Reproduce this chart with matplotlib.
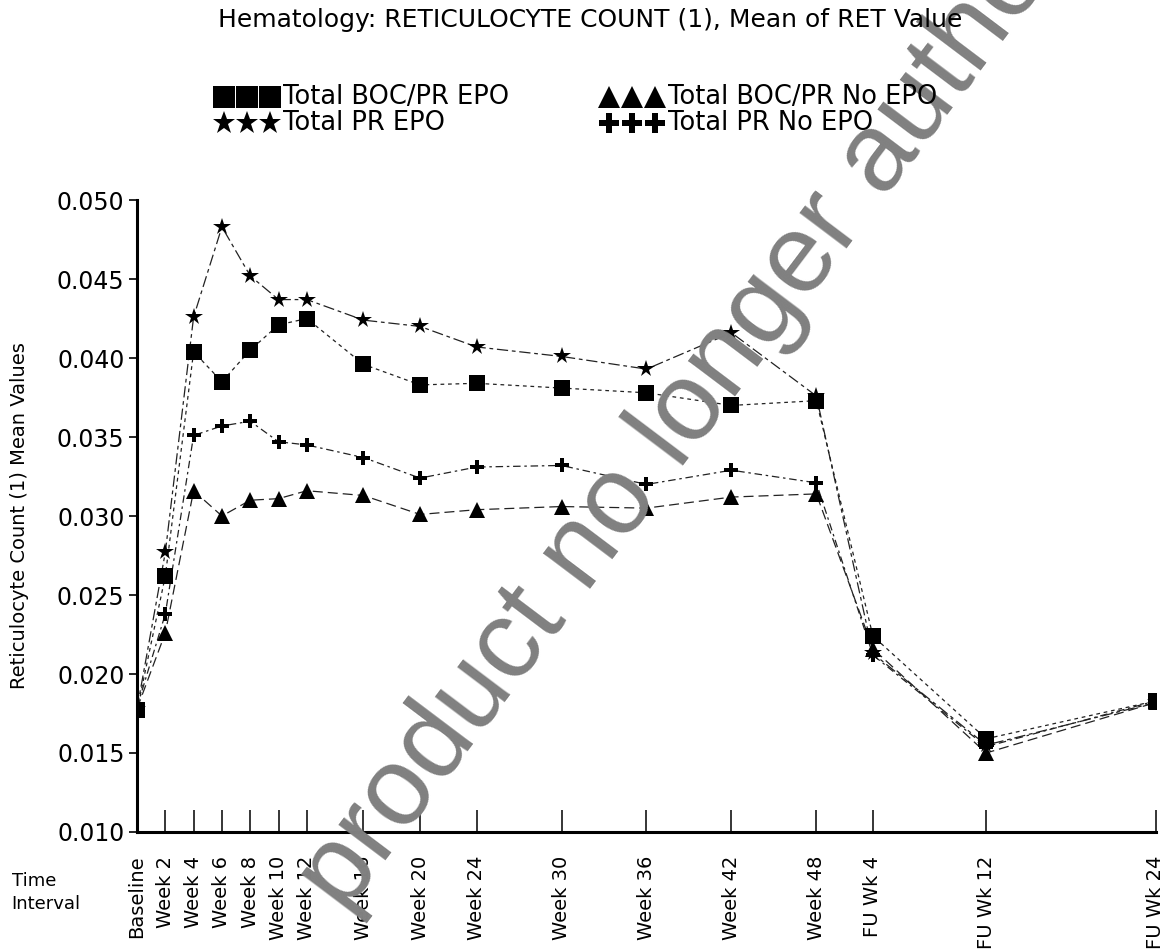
import matplotlib
matplotlib.use('Agg')
import matplotlib.pyplot as plt
from matplotlib.lines import Line2D

# Visit schedule in weeks from baseline (follow-up weeks counted after week 48)
weeks = [0, 2, 4, 6, 8, 10, 12, 16, 20, 24, 30, 36, 42, 48, 52, 60, 72]
visit_labels = ['Baseline', 'Week 2', 'Week 4', 'Week 6', 'Week 8', 'Week 10',
                'Week 12', 'Week 16', 'Week 20', 'Week 24', 'Week 30', 'Week 36',
                'Week 42', 'Week 48', 'FU Wk 4', 'FU Wk 12', 'FU Wk 24']

# Mean RET values per treatment group
boc_pr_epo = [0.0177, 0.0262, 0.0404, 0.0385, 0.0405, 0.0421, 0.0425, 0.0396, 0.0383,
              0.0384, 0.0381, 0.0378, 0.0370, 0.0373, 0.0224, 0.0159, 0.0183]
pr_epo = [0.0178, 0.0277, 0.0426, 0.0483, 0.0452, 0.0437, 0.0437, 0.0424, 0.0420,
          0.0407, 0.0401, 0.0393, 0.0416, 0.0376, 0.0213, 0.0155, 0.0182]
boc_pr_no_epo = [0.0178, 0.0226, 0.0316, 0.0300, 0.0310, 0.0311, 0.0316, 0.0313, 0.0301,
                 0.0304, 0.0306, 0.0305, 0.0312, 0.0314, 0.0216, 0.0150, 0.0182]
pr_no_epo = [0.0179, 0.0238, 0.0351, 0.0357, 0.0360, 0.0347, 0.0345, 0.0337, 0.0324,
             0.0331, 0.0332, 0.0320, 0.0329, 0.0321, 0.0212, 0.0154, 0.0183]

y_ticks = [0.010, 0.015, 0.020, 0.025, 0.030, 0.035, 0.040, 0.045, 0.050]

FONT = 'DejaVu Sans'

fig = plt.figure(figsize=(11.73, 9.49), dpi=100)
ax = fig.add_axes([0.1168, 0.1233, 0.8687, 0.6659])

# background watermark
fig.text(0.294, 0.036, 'product no longer authorised', rotation=53, rotation_mode='anchor',
         ha='left', va='baseline', fontsize=80, color='#808080', family='Liberation Sans',
         zorder=0)

series = [
    (boc_pr_epo, 's', 11, (3, 3)),
    (pr_epo, '*', 13, (9, 3, 3, 3)),
    (boc_pr_no_epo, '^', 11, (8, 4)),
    (pr_no_epo, 'P', 10, (6, 3, 2, 3)),
]
for values, marker, size, dashes in series:
    ax.plot(weeks, values, color='#222222', lw=0.9, dashes=dashes, zorder=2)
    ax.plot(weeks, values, ls='none', marker=marker, ms=size, color='black',
            markeredgewidth=0, zorder=3)

ax.set_xlim(0, 72)
ax.set_ylim(0.010, 0.050)
ax.patch.set_alpha(0)
for side in ['top', 'right']:
    ax.spines[side].set_visible(False)
for side in ['left', 'bottom']:
    ax.spines[side].set_linewidth(2.2)

ax.set_yticks(y_ticks)
ax.set_yticklabels([f'{v:.3f}' for v in y_ticks], fontsize=17, family=FONT)
ax.tick_params(axis='y', direction='out', length=6, width=1.2, pad=3)

ax.set_xticks(weeks)
ax.set_xticklabels(visit_labels, rotation=90, fontsize=14, family=FONT, va='top')
ax.set_xticks(weeks, minor=True)
ax.tick_params(axis='x', which='major', direction='in', length=16, width=1.1, pad=17)
ax.tick_params(axis='x', which='minor', direction='out', length=9, width=1.1)

ax.set_ylabel('Reticulocyte Count (1) Mean Values', fontsize=14, family=FONT)
ax.yaxis.set_label_coords(-0.106, 0.5)

fig.text(0.010, 0.060, 'Time\nInterval', fontsize=13, family=FONT, ha='left', va='center',
         linespacing=1.35)

fig.text(0.503, 0.979, 'Hematology: RETICULOCYTE COUNT (1), Mean of RET Value',
         ha='center', va='center', fontsize=18, family=FONT)

# legend: three markers ahead of each group name
legend_items = [
    ('s', 16, 'Total BOC/PR EPO', 0.191, 0.898),
    ('*', 17, 'Total PR EPO', 0.191, 0.870),
    ('^', 16, 'Total BOC/PR No EPO', 0.519, 0.898),
    ('P', 14, 'Total PR No EPO', 0.519, 0.870),
]
step = 0.0196
for marker, size, label, x0, y0 in legend_items:
    fig.add_artist(Line2D([x0 + i * step for i in range(3)], [y0] * 3, transform=fig.transFigure,
                          ls='none', marker=marker, ms=size, color='black', markeredgewidth=0))
    fig.text(x0 + 2 * step + 0.011, y0, label, ha='left', va='center', fontsize=18.5, family=FONT)

fig.savefig('out.png', dpi=100, facecolor='white')
